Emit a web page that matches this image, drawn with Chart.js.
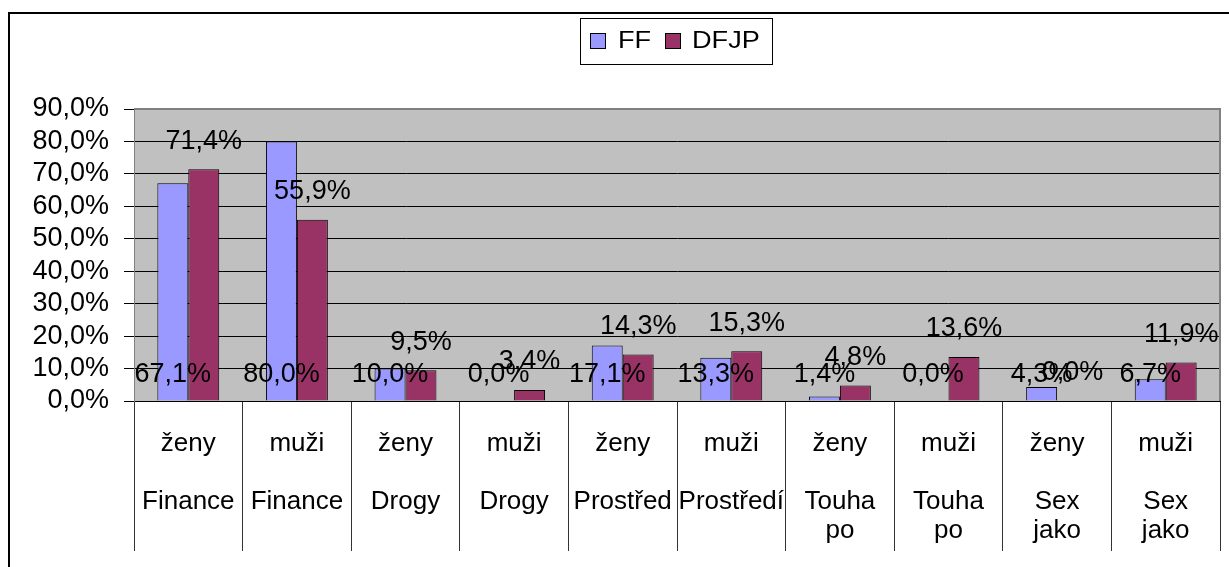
<!DOCTYPE html>
<html>
<head>
<meta charset="utf-8">
<script src="https://cdn.jsdelivr.net/npm/chart.js@4/dist/chart.umd.min.js"></script>
<style>
  body { margin: 0; background: #fff; }
  canvas { display: block; }
</style>
</head>
<body>
<canvas id="chart" width="1229" height="567"></canvas>
<script>
// data
const categories = [
  ['ženy', '', 'Finance'],
  ['muži', '', 'Finance'],
  ['ženy', '', 'Drogy'],
  ['muži', '', 'Drogy'],
  ['ženy', '', 'Prostřed'],
  ['muži', '', 'Prostředí'],
  ['ženy', '', 'Touha', 'po'],
  ['muži', '', 'Touha', 'po'],
  ['ženy', '', 'Sex', 'jako'],
  ['muži', '', 'Sex', 'jako']
];
const seriesNames = ['FF', 'DFJP'];
const ffValues = [67.1, 80.0, 10.0, 0.0, 17.1, 13.3, 1.4, 0.0, 4.3, 6.7];
const dfjpValues = [71.4, 55.9, 9.5, 3.4, 14.3, 15.3, 4.8, 13.6, 0.0, 11.9];
const yTicks = [0, 10, 20, 30, 40, 50, 60, 70, 80, 90];

const FONT = "'Liberation Sans', Arial, sans-serif";
const fmt = v => v.toFixed(1).replace('.', ',') + '%';

Chart.defaults.font.family = FONT;
Chart.defaults.color = '#000';

// white page, gray plot area, outer frame, value labels, boxed legend
const excelLook = {
  id: 'excelLook',
  beforeDraw(chart) {
    const { ctx, chartArea: a } = chart;
    ctx.save();
    ctx.fillStyle = '#fff';
    ctx.fillRect(0, 0, chart.width, chart.height);
    ctx.fillStyle = '#c0c0c0';
    ctx.fillRect(a.left, a.top, a.right - a.left, a.bottom - a.top);
    ctx.strokeStyle = '#000';
    ctx.lineWidth = 2;
    ctx.strokeRect(9, 13, chart.width + 20, chart.height + 20);
    ctx.restore();
  },
  afterDatasetsDraw(chart) {
    const { ctx, chartArea: a, scales } = chart;
    ctx.save();
    // plot border (top / right)
    ctx.strokeStyle = '#808080';
    ctx.lineWidth = 2;
    ctx.beginPath();
    ctx.moveTo(a.left, a.top);
    ctx.lineTo(a.right, a.top);
    ctx.lineTo(a.right, a.bottom);
    ctx.stroke();

    // value labels
    ctx.fillStyle = '#000';
    ctx.font = '27px ' + FONT;
    ctx.textAlign = 'center';
    ctx.textBaseline = 'middle';
    const zero = scales.y.getPixelForValue(0);
    const ff = chart.getDatasetMeta(0).data;
    const dj = chart.getDatasetMeta(1).data;
    ffValues.forEach((v, i) => {
      ctx.fillText(fmt(v), ff[i].x, zero - 26);
    });
    dfjpValues.forEach((v, i) => {
      ctx.fillText(fmt(v), dj[i].x, scales.y.getPixelForValue(v) - 28);
    });
    ctx.restore();
  },
  afterDraw(chart) {
    const { ctx } = chart;
    const ds = chart.data.datasets;
    ctx.save();
    ctx.fillStyle = '#fff';
    ctx.fillRect(580, 18, 192, 46);
    ctx.strokeStyle = '#000';
    ctx.lineWidth = 1;
    ctx.strokeRect(580.5, 18.5, 192, 46);
    const items = [{ box: 590, text: 618 }, { box: 665, text: 692 }];
    ctx.font = '23px ' + FONT;
    ctx.textBaseline = 'middle';
    ctx.textAlign = 'left';
    items.forEach((it, i) => {
      ctx.fillStyle = ds[i].backgroundColor;
      ctx.fillRect(it.box, 33, 15, 15);
      ctx.strokeStyle = '#000';
      ctx.strokeRect(it.box + 0.5, 33.5, 15, 15);
      ctx.fillStyle = '#000';
      ctx.save();
      ctx.translate(it.text, 42);
      ctx.scale(1.18, 1);
      ctx.fillText(ds[i].label, 0, 0);
      ctx.restore();
    });
    ctx.restore();
  }
};

new Chart(document.getElementById('chart'), {
  type: 'bar',
  data: {
    labels: categories,
    datasets: [
      {
        label: seriesNames[0],
        data: ffValues,
        backgroundColor: '#9999ff',
        borderColor: '#000',
        borderWidth: 1,
        categoryPercentage: 0.57,
        barPercentage: 1.0
      },
      {
        label: seriesNames[1],
        data: dfjpValues,
        backgroundColor: '#993366',
        borderColor: '#000',
        borderWidth: 1,
        categoryPercentage: 0.57,
        barPercentage: 1.0
      }
    ]
  },
  options: {
    responsive: false,
    devicePixelRatio: 1,
    animation: false,
    layout: { padding: { top: 109, right: 9, bottom: 0, left: 0 } },
    plugins: {
      legend: { display: false },
      tooltip: { enabled: false }
    },
    scales: {
      x: {
        offset: true,
        grid: {
          offset: true,
          drawOnChartArea: false,
          drawTicks: true,
          tickLength: 150,
          color: '#333'
        },
        border: { color: '#000', width: 1 },
        ticks: {
          autoSkip: false,
          maxRotation: 0,
          minRotation: 0,
          padding: -122,
          font: { size: 26, lineHeight: 1.12 }
        },
        afterFit(scale) { scale.height = 166; }
      },
      y: {
        min: 0,
        max: 90,
        grid: {
          color: '#000',
          tickColor: '#000',
          tickLength: 10,
          drawTicks: true
        },
        border: { color: '#808080', width: 1 },
        afterBuildTicks(scale) { scale.ticks = yTicks.map(v => ({ value: v })); },
        ticks: {
          autoSkip: false,
          padding: 15,
          font: { size: 27 },
          callback: v => fmt(v)
        },
        afterFit(scale) { scale.width = 134; }
      }
    }
  },
  plugins: [excelLook]
});
</script>
</body>
</html>
